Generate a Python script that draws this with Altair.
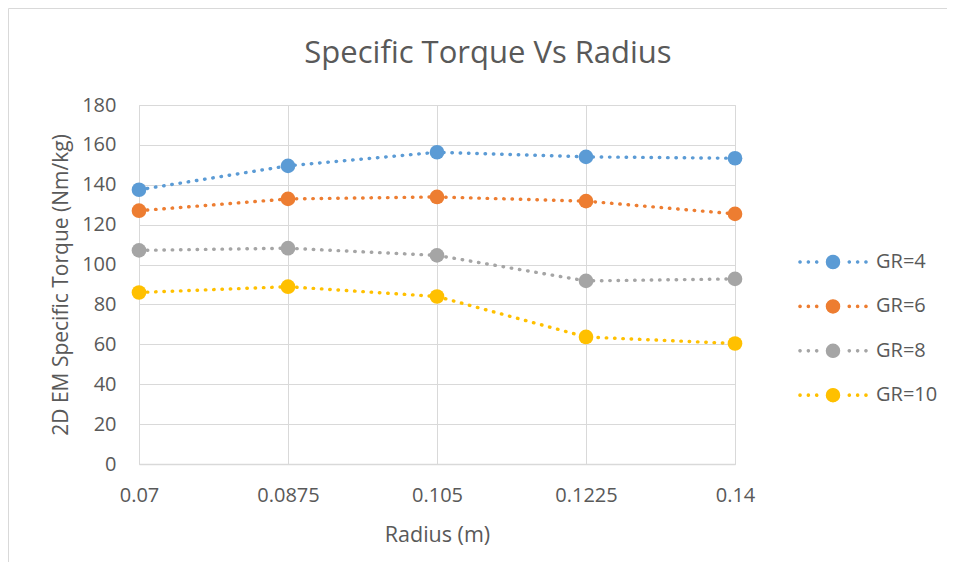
import altair as alt
import pandas as pd

# ---- data ----
radius = ["0.07", "0.0875", "0.105", "0.1225", "0.14"]
series_names = ["GR=4", "GR=6", "GR=8", "GR=10"]
gr4 = [137.5, 149.5, 156.3, 154.0, 153.3]
gr6 = [127.0, 132.9, 133.9, 131.8, 125.4]
gr8 = [107.1, 108.2, 104.6, 91.8, 92.8]
gr10 = [86.0, 88.9, 84.0, 63.7, 60.4]
colors = ["#5B9BD5", "#ED7D31", "#A5A5A5", "#FFC000"]
y_ticks = [0, 20, 40, 60, 80, 100, 120, 140, 160, 180]

rows = []
for name, vals in zip(series_names, [gr4, gr6, gr8, gr10]):
    for r, v in zip(radius, vals):
        rows.append({"Radius": r, "Series": name, "Torque": v})
df = pd.DataFrame(rows)

FONT = "Open Sans"
TXT = "#595959"
GRID = "#d9d9d9"

W, H = 596, 359
PAD_L, PAD_T = 131, 97


def circ(cx, r):
    return (f"M{cx - r:.3f},0a{r:.3f},{r:.3f} 0 1,0 {2 * r:.3f},0"
            f"a{r:.3f},{r:.3f} 0 1,0 {-2 * r:.3f},0Z")


DOTS = (-4.55, -3.4, -2.25, 2.25, 3.4, 4.55)
DOT_RINGS = (0.03, 0.1, 0.17)
DISC_RINGS = (0.05, 0.17, 0.3, 0.43, 0.56, 0.69, 0.81, 0.92)
# legend symbol drawn with strokes only: concentric rings fill the dots and the marker
ring_path = "".join(circ(x, r) for x in DOTS for r in DOT_RINGS) + "".join(
    circ(0, r) for r in DISC_RINGS)

x_enc = alt.X(
    "Radius:O",
    sort=radius,
    scale=alt.Scale(type="point", padding=0),
    axis=alt.Axis(
        title="Radius (m)", labelAngle=0, ticks=False, grid=True, gridColor=GRID,
        domainColor=GRID, domainWidth=1.5, labelFont=FONT, labelFontSize=20,
        labelColor=TXT, labelPadding=21, titleFont=FONT, titleFontSize=21.5,
        titleFontWeight="normal", titleColor=TXT, titlePadding=19,
    ),
)
y_enc = alt.Y(
    "Torque:Q",
    scale=alt.Scale(domain=[0, 180], nice=False, zero=True),
    axis=alt.Axis(
        title="2D EM Specific Torque (Nm/kg)", values=y_ticks, ticks=False, domain=False,
        grid=True, gridColor=GRID, labelFont=FONT, labelFontSize=20, labelColor=TXT,
        labelPadding=23, titleFont=FONT, titleFontSize=21, titleFontWeight="normal",
        titleColor=TXT, titlePadding=10,
    ),
)

lines = alt.Chart(df).mark_line(
    strokeWidth=3.4, strokeDash=[0.5, 7.8], strokeCap="round"
).encode(
    x=x_enc,
    y=y_enc,
    stroke=alt.Stroke(
        "Series:N", sort=series_names,
        scale=alt.Scale(domain=series_names, range=colors),
        legend=alt.Legend(
            title=None, orient="none", legendX=684, legendY=147,
            symbolType=ring_path, symbolSize=210, symbolStrokeWidth=1.2,
            symbolDash=[1000, 0], symbolOpacity=1,
            labelFont=FONT, labelFontSize=20, labelColor=TXT, labelOffset=33,
            rowPadding=24.4, padding=0,
        ),
    ),
)

points = alt.Chart(df).mark_circle(size=215, opacity=1).encode(
    x=x_enc,
    y=y_enc,
    fill=alt.Fill(
        "Series:N", sort=series_names,
        scale=alt.Scale(domain=series_names, range=colors), legend=None,
    ),
)

# chart-area border (only its left and top edges fall inside the picture)
one = pd.DataFrame({"k": [0]})
frame_left = alt.Chart(one).mark_rule(stroke=GRID, strokeWidth=1).encode(
    x=alt.value(0.5 - PAD_L), y=alt.value(0.5 - PAD_T), y2=alt.value(1200),
)
frame_top = alt.Chart(one).mark_rule(stroke=GRID, strokeWidth=1).encode(
    y=alt.value(0.5 - PAD_T), x=alt.value(0.5 - PAD_L), x2=alt.value(1200),
)

chart = alt.layer(frame_left, frame_top, lines, points).properties(
    width=W,
    height=H,
    title=alt.TitleParams(
        "Specific Torque Vs Radius", font=FONT, fontSize=31, fontWeight="normal",
        color=TXT, anchor="middle", dx=51, offset=-62,
    ),
    autosize=alt.AutoSizeParams(type="none"),
    padding={"left": PAD_L, "top": PAD_T, "right": 212, "bottom": 98},
).configure_view(stroke=None).configure(background="white")

chart.save("out.html", embed_options={"renderer": "svg", "actions": False})
